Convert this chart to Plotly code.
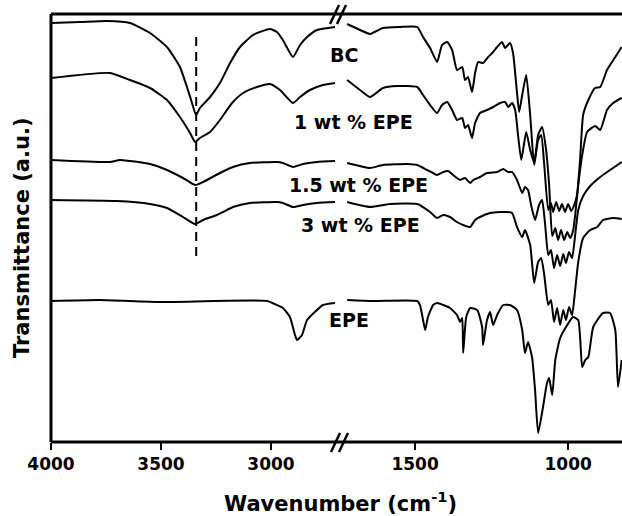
import plotly.graph_objects as go

# ---------------- data (wavenumber cm^-1, transmittance a.u.) ----------------
BC_wn = [4000, 3868, 3745, 3641, 3550, 3473, 3414, 3382, 3359, 3341, 3323, 3277, 3232, 3186, 3141, 3082,
         3005, 2973, 2946, 2900, 2868, 2836, 2791, 2709,
         1722, 1680, 1647, 1605, 1549, 1493, 1474, 1451, 1428, 1412, 1395, 1379, 1363, 1346, 1337, 1327,
         1314, 1304, 1294, 1278, 1261, 1245, 1232, 1216, 1206, 1190, 1180, 1167, 1160, 1150, 1137, 1124,
         1111, 1098, 1088, 1078, 1065, 1056, 1049, 1039, 1029, 1020, 1010, 1000, 990, 980, 971, 961, 951,
         934, 912, 895, 873, 846, 825]
BC_T = [419, 420, 421, 419, 409, 395, 375, 355, 339, 327, 334, 345, 359, 379, 395, 407,
        413, 410, 402, 385, 397, 405, 412, 415,
        418, 412, 408, 414, 415, 415, 405, 394, 380, 397, 400, 392, 372, 375, 362, 365,
        350, 369, 380, 379, 385, 390, 395, 400, 394, 399, 389, 349, 330, 347, 367, 327,
        277, 302, 307, 277, 232, 239, 230, 240, 231, 238, 230, 238, 231, 237, 247, 282, 327,
        342, 354, 355, 372, 385, 395]

EPE1_wn = [4000, 3732, 3641, 3550, 3473, 3414, 3368, 3345, 3323, 3277, 3232, 3177, 3127, 3064, 3005,
           2959, 2900, 2868, 2823, 2764, 2709,
           1722, 1680, 1647, 1605, 1559, 1493, 1474, 1451, 1428, 1412, 1395, 1379, 1363, 1346, 1337,
           1327, 1314, 1304, 1288, 1265, 1245, 1222, 1206, 1196, 1183, 1173, 1163, 1153, 1137, 1124,
           1111, 1098, 1085, 1072, 1062, 1052, 1042, 1033, 1023, 1013, 1003, 993, 984, 977, 967, 954,
           938, 912, 895, 873, 853, 825]
EPE1_T = [364, 369, 362, 354, 342, 325, 309, 300, 304, 310, 322, 339, 349, 355, 358,
          352, 339, 345, 352, 357, 359,
          362, 352, 345, 354, 356, 355, 347, 337, 329, 337, 340, 332, 322, 324, 314,
          317, 304, 319, 329, 332, 335, 339, 340, 335, 339, 332, 305, 282, 310, 292,
          279, 307, 315, 292, 257, 206, 214, 202, 212, 202, 210, 204, 211, 227, 257, 287,
          310, 316, 312, 332, 339, 344]

EPE15_wn = [4000, 3732, 3686, 3550, 3473, 3400, 3345, 3309, 3232, 3173, 3096, 2973, 2946, 2900, 2855,
            2791, 2709,
            1722, 1680, 1647, 1605, 1526, 1493, 1461, 1441, 1428, 1408, 1392, 1376, 1353, 1337, 1320,
            1310, 1288, 1265, 1232, 1212, 1196, 1183, 1167, 1150, 1141, 1131, 1121, 1108, 1095, 1085,
            1075, 1065, 1056, 1046, 1036, 1026, 1016, 1007, 997, 987, 977, 967, 951, 928, 895, 863, 825]
EPE15_T = [282, 280, 282, 278, 272, 264, 257, 260, 269, 275, 279, 280, 279, 275, 278,
           280, 281,
           279, 276, 274, 277, 278, 277, 272, 269, 267, 270, 271, 267, 262, 264, 259,
           262, 265, 269, 270, 273, 270, 270, 262, 249, 255, 252, 237, 222, 237, 242,
           217, 187, 192, 174, 187, 176, 188, 179, 190, 184, 207, 232, 246, 256, 265, 272, 280]

EPE3_wn = [4000, 3700, 3550, 3473, 3400, 3345, 3309, 3246, 3218, 3173, 3096, 2973, 2946, 2900, 2855,
           2791, 2709,
           1722, 1647, 1582, 1493, 1451, 1428, 1408, 1386, 1363, 1343, 1320, 1304, 1288, 1255, 1222,
           1199, 1183, 1167, 1150, 1141, 1124, 1111, 1098, 1088, 1078, 1065, 1056, 1046, 1036, 1026,
           1016, 1007, 997, 987, 977, 967, 951, 928, 905, 886, 853, 825]
EPE3_T = [242, 241, 238, 234, 225, 218, 222, 227, 230, 235, 239, 240, 239, 235, 237,
          239, 240,
          240, 235, 238, 238, 230, 224, 227, 225, 220, 217, 215, 222, 225, 229, 230,
          230, 229, 215, 205, 212, 197, 159, 180, 184, 167, 137, 142, 120, 134, 117,
          132, 122, 135, 127, 152, 180, 204, 212, 215, 222, 224, 223]

EPE_wn = [4000, 3777, 3505, 3018, 2973, 2946, 2914, 2891, 2882, 2859, 2836, 2791, 2764, 2709,
          1722, 1637, 1493, 1484, 1474, 1467, 1458, 1441, 1428, 1408, 1386, 1363, 1353, 1346, 1343,
          1333, 1320, 1297, 1281, 1278, 1265, 1255, 1245, 1232, 1212, 1190, 1167, 1150, 1141, 1131,
          1118, 1108, 1098, 1082, 1069, 1062, 1052, 1042, 1026, 1003, 984, 967, 954, 944, 934, 918,
          886, 863, 846, 837, 825]
EPE_T = [141, 142, 140, 141, 137, 134, 125, 107, 102, 107, 122, 132, 137, 139,
         142, 141, 141, 137, 122, 112, 125, 137, 139, 137, 134, 127, 120, 124, 89,
         125, 134, 132, 115, 97, 122, 130, 117, 127, 137, 137, 132, 112, 89, 100,
         85, 52, 9, 35, 59, 64, 47, 82, 104, 117, 125, 122, 75, 82, 85, 115,
         129, 129, 112, 55, 82]

series = [("BC", BC_wn, BC_T), ("1 wt % EPE", EPE1_wn, EPE1_T),
          ("1.5 wt % EPE", EPE15_wn, EPE15_T), ("3 wt % EPE", EPE3_wn, EPE3_T),
          ("EPE", EPE_wn, EPE_T)]

break_hi = 2700   # left segment: 4000 -> 2700
break_lo = 1729   # right segment: 1729 -> 824
left_ticks = [4000, 3500, 3000]
right_ticks = [1500, 1000]
oh_band = 3340

FONT = "DejaVu Sans"

fig = go.Figure()
for name, wn, t in series:
    lx = [w for w in wn if w > 2000]
    ly = [v for w, v in zip(wn, t) if w > 2000]
    rx = [w for w in wn if w <= 2000]
    ry = [v for w, v in zip(wn, t) if w <= 2000]
    for xs, ys, xa in ((lx, ly, "x"), (rx, ry, "x2")):
        fig.add_trace(go.Scatter(x=xs, y=ys, mode="lines", name=name, xaxis=xa, yaxis="y",
                                 line=dict(color="black", width=2, shape="spline", smoothing=0.5),
                                 showlegend=False))

W, H = 622, 516
ml, mr, mt, mb = 51, 0, 14, 74
pw, ph = W - ml - mr, H - mt - mb


def px(xp):
    return (xp - ml) / pw


def py(yp):
    return (H - mb - yp) / ph


tickfont = dict(family=FONT, size=17, color="black", weight="bold")
fig.update_layout(
    width=W, height=H, margin=dict(l=ml, r=mr, t=mt, b=mb),
    plot_bgcolor="white", paper_bgcolor="white", showlegend=False,
    xaxis=dict(domain=[0, px(337)], range=[4000, break_hi], tickvals=left_ticks,
               ticks="outside", ticklen=7, tickwidth=2, tickcolor="black",
               tickfont=tickfont, showline=False, showgrid=False, zeroline=False, anchor="y"),
    xaxis2=dict(domain=[px(345), 1], range=[break_lo, 824], tickvals=right_ticks,
                ticks="outside", ticklen=7, tickwidth=2, tickcolor="black",
                tickfont=tickfont, showline=False, showgrid=False, zeroline=False, anchor="y"),
    yaxis=dict(range=[0, ph], showticklabels=False, ticks="", showgrid=False,
               zeroline=False, showline=False),
)

shapes = [
    dict(type="line", xref="paper", yref="paper", x0=0, x1=0, y0=0, y1=1,
         line=dict(color="black", width=3)),
    dict(type="line", xref="paper", yref="paper", x0=0, x1=1, y0=0, y1=0,
         line=dict(color="black", width=3)),
    dict(type="line", xref="paper", yref="paper", x0=0, x1=1, y0=1, y1=1,
         line=dict(color="black", width=3)),
    # break marks top
    dict(type="line", xref="paper", yref="paper", x0=px(330), x1=px(339), y0=py(24), y1=py(5),
         line=dict(color="black", width=2.5)),
    dict(type="line", xref="paper", yref="paper", x0=px(337), x1=px(346), y0=py(24), y1=py(5),
         line=dict(color="black", width=2.5)),
    # break marks bottom
    dict(type="line", xref="paper", yref="paper", x0=px(331), x1=px(340), y0=py(452), y1=py(433),
         line=dict(color="black", width=2.5)),
    dict(type="line", xref="paper", yref="paper", x0=px(339), x1=px(348), y0=py(452), y1=py(433),
         line=dict(color="black", width=2.5)),
    # dashed O-H band marker
    dict(type="line", xref="x", yref="y", x0=oh_band, x1=oh_band, y0=405, y1=186,
         line=dict(color="black", width=2, dash="9px,6px")),
]
fig.update_layout(shapes=shapes)

labels = [("BC", 344, 55), ("1 wt % EPE", 353, 122), ("1.5 wt % EPE", 358, 185),
          ("3 wt % EPE", 360, 225), ("EPE", 349, 320)]
ann = []
for text, cx, cy in labels:
    ann.append(dict(text=text, xref="paper", yref="paper", x=px(cx), y=py(cy),
                    xanchor="center", yanchor="middle", showarrow=False,
                    font=dict(family=FONT, size=19, color="black", weight="bold")))
ann.append(dict(text="Wavenumber (cm<sup>-1</sup>)", xref="paper", yref="paper",
                x=px(340), y=py(502), xanchor="center", yanchor="middle", showarrow=False,
                font=dict(family=FONT, size=21, color="black", weight="bold")))
ann.append(dict(text="Transmittance (a.u.)", xref="paper", yref="paper",
                x=px(22), y=py(238), xanchor="center", yanchor="middle", showarrow=False,
                textangle=-90, font=dict(family=FONT, size=21, color="black", weight="bold")))
fig.update_layout(annotations=ann)

fig.write_html("out.html")
